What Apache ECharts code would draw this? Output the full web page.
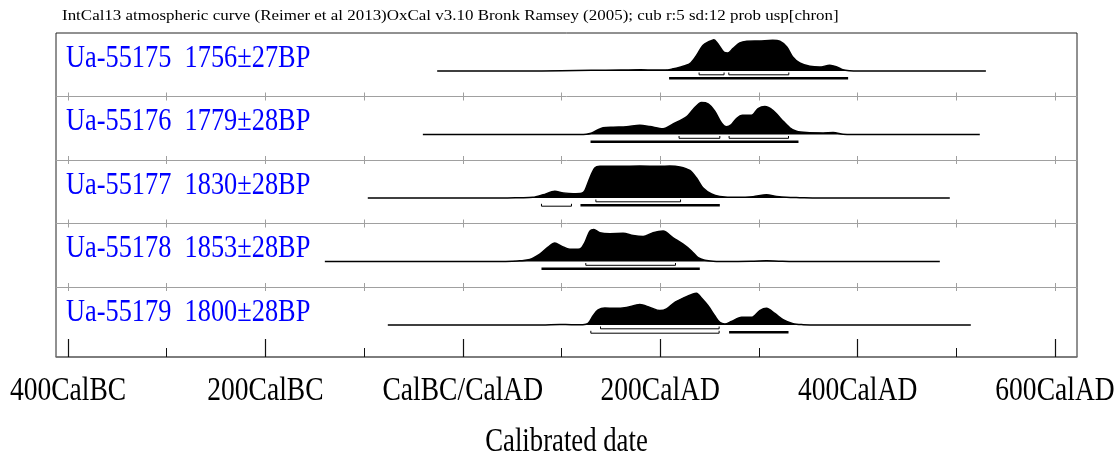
<!DOCTYPE html>
<html><head><meta charset="utf-8">
<script src="https://cdn.jsdelivr.net/npm/echarts@6/dist/echarts.min.js"></script>
<style>html,body{margin:0;padding:0;background:#fff}#c{width:1120px;height:456px}</style>
</head><body><div id="c"></div>
<script>
// ---------- data ----------
const titleText = 'IntCal13 atmospheric curve (Reimer et al 2013)OxCal v3.10 Bronk Ramsey (2005); cub r:5 sd:12 prob usp[chron]';
const sampleIds = ['Ua-55175', 'Ua-55176', 'Ua-55177', 'Ua-55178', 'Ua-55179'];
const sampleDates = ['1756±27BP', '1779±28BP', '1830±28BP', '1853±28BP', '1800±28BP'];
const tickYears = [-400, -200, 0, 200, 400, 600];
const tickLabels = ['400CalBC', '200CalBC', 'CalBC/CalAD', '200CalAD', '400CalAD', '600CalAD'];
const minorTickYears = [-300, -100, 100, 300, 500];
const rowTickYears = [-400, -300, -200, -100, 0, 100, 200, 300, 400, 500, 600];
const axisTitle = 'Calibrated date';

// probability density (year AD, relative height)
const density1 = [[-26,0],[60,0],[100,0.01],[130,0.02],[160,0.03],[180,0.04],[195,0.03],[205,0.03],[212,0.06],[220,0.12],[230,0.23],[236.8,0.49],[243.2,0.8],[250.3,0.93],[254.3,0.98],[258.4,0.85],[264.4,0.59],[268.5,0.56],[273.6,0.7],[280.6,0.875],[287.7,0.93],[300.9,0.94],[314,0.96],[321.2,0.93],[328.3,0.75],[334.3,0.44],[341.4,0.25],[351.6,0.15],[361.7,0.125],[371.8,0.18],[378.9,0.125],[385,0.04],[392,0.01],[400,0],[530,0]];
const density2 = [[-40.5,0],[110,0],[125,0.01],[130,0.04],[135.5,0.125],[142.1,0.21],[152.3,0.23],[165.9,0.24],[179.3,0.29],[189.5,0.25],[202.9,0.18],[213.1,0.33],[226.6,0.55],[233.3,0.78],[241.8,1.0],[248.5,0.96],[255.3,0.73],[262.1,0.36],[267.2,0.24],[272.2,0.31],[277.3,0.5],[283.4,0.6],[292.5,0.6],[299.2,0.81],[306,0.875],[314.4,0.75],[322.9,0.47],[331.3,0.21],[338.1,0.1],[348.2,0.06],[365,0.05],[375.2,0.06],[385.3,0.01],[395,0],[523.8,0]];
const density3 = [[-96.3,0],[40,0],[57.8,0.01],[70.9,0.02],[81.4,0.1],[93.2,0.21],[101.6,0.16],[111.8,0.135],[120.3,0.15],[123.6,0.23],[128.7,0.625],[133.7,0.94],[138.8,0.99],[159.1,0.99],[179.3,1.0],[199.6,0.99],[209.7,1.0],[219.9,0.97],[230,0.86],[236.8,0.625],[243.5,0.31],[252,0.125],[260.4,0.05],[277.3,0.02],[294.1,0.04],[307.7,0.1],[317.8,0.05],[328,0.02],[341.4,0.01],[360,0],[493.4,0]];
const density4 = [[-139.8,0],[30,0],[50,0.01],[57.8,0.02],[67.9,0.06],[78,0.23],[86.4,0.45],[93.2,0.58],[100,0.48],[108.4,0.38],[118.5,0.39],[123.6,0.59],[128.7,0.95],[132.7,1.0],[138.8,0.9],[148.9,0.87],[162.4,0.88],[172.5,0.81],[182.7,0.78],[192.8,0.9],[202.9,0.95],[213.1,0.74],[223.2,0.54],[231.7,0.33],[238.4,0.12],[245.2,0.04],[253.6,0.01],[270,0],[295,0.01],[307.7,0.02],[320,0.01],[335,0],[483.3,0]];
const density5 = [[-76,0],[80,0],[98.3,0.015],[110,0.01],[121.6,0.01],[127,0.05],[132,0.29],[137.1,0.47],[143.9,0.53],[154,0.52],[165.9,0.55],[179.3,0.64],[189.5,0.55],[199.6,0.45],[206.4,0.5],[214.8,0.71],[223.2,0.84],[233.3,0.97],[236.8,0.99],[241.8,0.84],[248.5,0.6],[255.3,0.29],[260.4,0.08],[265.5,0.03],[272.2,0.11],[282.4,0.24],[292.5,0.24],[300.9,0.45],[307.7,0.52],[316.1,0.36],[324.5,0.17],[334.7,0.04],[344.8,0.01],[360,0],[514.7,0]];

// 68.2% ranges (open brackets)
const range68_1 = [[239.4,264.7],[269.5,330.3]];
const range68_2 = [[219.1,260.4],[269.8,330]];
const range68_3 = [[134.8,220.6]];
const range68_4 = [[124.6,215.5]];
const range68_5 = [[139.5,259.7]];
// 95.4% ranges drawn as open brackets
const range95open_1 = [];
const range95open_2 = [];
const range95open_3 = [[79.7,110.1]];
const range95open_4 = [];
const range95open_5 = [[129.7,259.7]];
// 95.4% ranges drawn as solid bars
const range95solid_1 = [[209,390.4]];
const range95solid_2 = [[129.4,340.1]];
const range95solid_3 = [[119.2,260.4]];
const range95solid_4 = [[79.7,240.1]];
const range95solid_5 = [[269.8,330]];

const densities = [density1, density2, density3, density4, density5];
const ranges68 = [range68_1, range68_2, range68_3, range68_4, range68_5];
const ranges95open = [range95open_1, range95open_2, range95open_3, range95open_4, range95open_5];
const ranges95solid = [range95solid_1, range95solid_2, range95solid_3, range95solid_4, range95solid_5];

// ---------- layout ----------
const XMIN = -412.2, XMAX = 622.3;
const LEFT = 56, WIDTH = 1021;
const ROW_TOP0 = 33, ROW_H = 63.5, GRID_H = 50;
const YMIN = -0.375, YMAX = 1.1875; // 32 px per unit, baseline 38 px below row top
const PXU = 32;
const FONT = '"Liberation Serif", "Times New Roman", serif';

function rowTop(i) { return ROW_TOP0 + ROW_H * i; }

function bracketItem(topPx, botPx) {
  return function (params, api) {
    const a = api.coord([api.value(0), -topPx / PXU]);
    const b = api.coord([api.value(1), -botPx / PXU]);
    return { type: 'polyline', shape: { points: [[a[0], a[1]], [a[0], b[1]], [b[0], b[1]], [b[0], a[1]]] },
      style: { stroke: '#000', lineWidth: 1, fill: null } };
  };
}
function barItem(topPx, botPx) {
  return function (params, api) {
    const a = api.coord([api.value(0), -topPx / PXU]);
    const b = api.coord([api.value(1), -botPx / PXU]);
    return { type: 'rect', shape: { x: a[0], y: a[1], width: b[0] - a[0], height: b[1] - a[1] },
      style: { fill: '#000' } };
  };
}

const grid = [], xAxis = [], yAxis = [], series = [];
for (let i = 0; i < 5; i++) {
  grid.push({ left: LEFT, width: WIDTH, top: rowTop(i), height: GRID_H, show: false });
  const sep = i > 0;
  xAxis.push({ gridIndex: i, type: 'value', min: XMIN, max: XMAX, position: 'top', show: sep,
    axisLine: { show: sep, onZero: false, lineStyle: { color: '#a0a0a0', width: 1 } },
    axisTick: { show: sep, inside: true, length: 4, customValues: rowTickYears, lineStyle: { color: '#a0a0a0' } },
    axisLabel: { show: false }, splitLine: { show: false } });
  xAxis.push({ gridIndex: i, type: 'value', min: XMIN, max: XMAX, position: 'top', show: sep,
    axisLine: { show: false, onZero: false },
    axisTick: { show: sep, inside: false, length: 4, customValues: rowTickYears, lineStyle: { color: '#a0a0a0' } },
    axisLabel: { show: false }, splitLine: { show: false } });
  yAxis.push({ gridIndex: i, type: 'value', min: YMIN, max: YMAX, show: false });

  series.push({ type: 'line', xAxisIndex: 2 * i, yAxisIndex: i, data: densities[i], showSymbol: false, symbol: 'none',
    smooth: 0.3, lineStyle: { color: '#000', width: 1.5 }, areaStyle: { color: '#000', opacity: 1 },
    silent: true, z: 3 });
  series.push({ type: 'custom', xAxisIndex: 2 * i, yAxisIndex: i, data: ranges68[i], encode: { x: [0, 1] },
    renderItem: bracketItem(1.5, 3.8), clip: false, silent: true, z: 4 });
  series.push({ type: 'custom', xAxisIndex: 2 * i, yAxisIndex: i, data: ranges95open[i], encode: { x: [0, 1] },
    renderItem: bracketItem(5.8, 8.2), clip: false, silent: true, z: 4 });
  series.push({ type: 'custom', xAxisIndex: 2 * i, yAxisIndex: i, data: ranges95solid[i], encode: { x: [0, 1] },
    renderItem: barItem(6, 8.5), clip: false, silent: true, z: 4 });
}
// frame grid with the calibrated-date axis
grid.push({ left: LEFT, width: WIDTH, top: ROW_TOP0, height: 324, show: true, borderColor: '#222', borderWidth: 1, backgroundColor: 'transparent' });
xAxis.push({ gridIndex: 5, type: 'value', min: XMIN, max: XMAX, position: 'bottom',
  axisLine: { show: true, onZero: false, lineStyle: { color: '#777', width: 1.5 } },
  axisTick: { show: true, inside: true, length: 18, customValues: tickYears, lineStyle: { color: '#111', width: 1.2 } },
  axisLabel: { show: false }, splitLine: { show: false } });
xAxis.push({ gridIndex: 5, type: 'value', min: XMIN, max: XMAX, position: 'bottom',
  axisLine: { show: false, onZero: false },
  axisTick: { show: true, inside: true, length: 9, customValues: minorTickYears, lineStyle: { color: '#111', width: 1 } },
  axisLabel: { show: false }, splitLine: { show: false } });
yAxis.push({ gridIndex: 5, type: 'value', min: 0, max: 1, show: false });

const chart = echarts.init(document.getElementById('c'), null, { renderer: 'canvas' });
chart.setOption({ animation: false, backgroundColor: '#fff', grid, xAxis, yAxis, series });

// ---------- text (condensed serif, positioned via the axis scale) ----------
const FRAME_AXIS = 10;
const graphic = [];
graphic.push({ type: 'text', x: 62, y: 15.6, scaleX: 1.13, silent: true,
  style: { text: titleText, font: '15px ' + FONT, fill: '#000', align: 'left', verticalAlign: 'middle', textAlign: 'left', textVerticalAlign: 'middle' } });
for (let i = 0; i < 5; i++) {
  graphic.push({ type: 'text', x: 66, y: rowTop(i) + 25.8, scaleX: 0.85, silent: true,
    style: { text: sampleIds[i] + '  ' + sampleDates[i], font: '31px ' + FONT, fill: '#0000ff', align: 'left', verticalAlign: 'middle', textAlign: 'left', textVerticalAlign: 'middle' } });
}
for (let k = 0; k < tickYears.length; k++) {
  const px = chart.convertToPixel({ xAxisIndex: FRAME_AXIS }, tickYears[k]);
  graphic.push({ type: 'text', x: px, y: 391, scaleX: 0.81, silent: true,
    style: { text: tickLabels[k], font: '34px ' + FONT, fill: '#000', align: 'center', verticalAlign: 'middle', textAlign: 'center', textVerticalAlign: 'middle' } });
}
const midPx = chart.convertToPixel({ xAxisIndex: FRAME_AXIS }, (XMIN + XMAX) / 2);
graphic.push({ type: 'text', x: midPx, y: 442, scaleX: 0.81, silent: true,
  style: { text: axisTitle, font: '33px ' + FONT, fill: '#000', align: 'center', verticalAlign: 'middle', textAlign: 'center', textVerticalAlign: 'middle' } });
chart.setOption({ graphic: { elements: graphic } });
</script></body></html>
